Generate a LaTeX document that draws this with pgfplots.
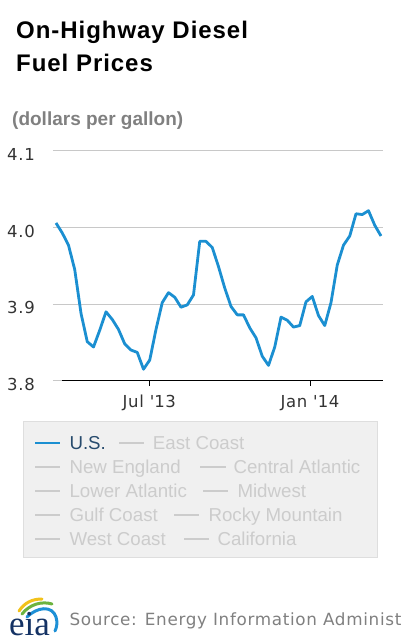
\documentclass[border=0pt]{standalone}
\usepackage{fontspec}
\setmainfont{Liberation Sans}
\newfontfamily\dejavu{DejaVu Sans}
\newfontfamily\spaced[LetterSpace=4]{DejaVu Sans}
\newfontfamily\titlefont[LetterSpace=4]{Liberation Sans}
\newfontfamily\serifeia{Liberation Serif}
\usepackage{pgfplots}
\pgfplotsset{compat=1.18}
\definecolor{usblue}{RGB}{27,143,209}
\definecolor{gridgray}{RGB}{200,200,200}
\definecolor{ticktext}{RGB}{51,51,51}
\definecolor{labelgray}{RGB}{128,128,128}
\definecolor{hidden}{RGB}{204,204,204}
\definecolor{legfill}{RGB}{240,240,240}
\definecolor{legdraw}{RGB}{222,222,222}
\definecolor{legtext}{RGB}{39,75,109}
\definecolor{eianavy}{RGB}{20,50,100}
\definecolor{eiayellow}{RGB}{242,194,27}
\definecolor{eiagreen}{RGB}{108,179,63}
\definecolor{eiablue}{RGB}{30,144,214}

\pgfplotstableread{
i p
0 4.006
1 3.993
2 3.977
3 3.945
4 3.888
5 3.851
6 3.844
7 3.866
8 3.890
9 3.880
10 3.867
11 3.848
12 3.840
13 3.837
14 3.815
15 3.827
16 3.867
17 3.902
18 3.915
19 3.909
20 3.896
21 3.899
22 3.912
23 3.982
24 3.982
25 3.974
26 3.949
27 3.921
28 3.897
29 3.886
30 3.886
31 3.869
32 3.856
33 3.832
34 3.820
35 3.844
36 3.883
37 3.879
38 3.870
39 3.872
40 3.903
41 3.910
42 3.885
43 3.872
44 3.902
45 3.951
46 3.977
47 3.989
48 4.018
49 4.017
50 4.022
51 4.003
52 3.989
}\usdata

\begin{document}
\begin{tikzpicture}[x=1pt,y=1pt]
\path[use as bounding box] (0,0) rectangle (400,640);
\clip (0,0) rectangle (400,640);
% title
\node[anchor=base west, inner sep=0pt, text=black, font=\titlefont\bfseries\fontsize{24}{26}\selectfont] at (16,601) {On-Highway Diesel};
\node[anchor=base west, inner sep=0pt, text=black, font=\titlefont\bfseries\fontsize{24}{26}\selectfont] at (16,568) {Fuel Prices};
\node[anchor=base west, inner sep=0pt, text=labelgray, font=\bfseries\fontsize{19}{22}\selectfont] at (12,514) {(dollars per gallon)};

\begin{axis}[
  at={(53pt,259.3pt)}, anchor=south west,
  width=330pt, height=229.7pt, scale only axis,
  xmin=-0.48, xmax=52.32, ymin=3.8, ymax=4.1,
  ytick={3.8,3.9,4.0,4.1}, yticklabels={3.8,3.9,4.0,4.1},
  xtick={14.93,40.64}, xticklabels={Jul \textquotesingle13, Jan \textquotesingle14},
  ymajorgrids, grid style={gridgray, line width=1pt},
  axis line style={draw=none},
  ytick style={draw=none},
  xtick style={black, line width=1pt},
  tick align=outside, xtick pos=left,
  major tick length=5pt,
  yticklabel style={anchor=base west, inner sep=0pt, xshift=-41pt, yshift=-9.5pt, font=\spaced\fontsize{16.5}{18}\selectfont, text=ticktext},
  xticklabel style={anchor=base, inner sep=0pt, yshift=-22.3pt, font=\spaced\fontsize{16.5}{18}\selectfont, text=ticktext},
]
\addplot[usblue, line width=2.8pt, line join=round, mark=none] table[x=i, y=p] {\usdata};
\draw[black, line width=1pt] (rel axis cs:0.0273,0) -- (rel axis cs:1,0);
\end{axis}

% legend
\filldraw[fill=legfill, draw=legdraw, line width=1pt] (23,218.3) rectangle (377,82.7);
\begin{scope}[every node/.style={anchor=base west, inner sep=0pt, font=\fontsize{18.7}{20}\selectfont}]
\draw[usblue, line width=2pt] (35,197.3) -- (60,197.3);
\node[text=legtext] at (69.3,190.7) {U.S.};
\draw[hidden, line width=2pt] (119,197.3) -- (144,197.3);
\node[text=hidden] at (152.7,190.7) {East Coast};
\draw[hidden, line width=2pt] (35,173.3) -- (60,173.3);
\node[text=hidden] at (69.3,166.7) {New England};
\draw[hidden, line width=2pt] (200,173.3) -- (225.7,173.3);
\node[text=hidden] at (233.3,166.7) {Central Atlantic};
\draw[hidden, line width=2pt] (35,149.3) -- (60,149.3);
\node[text=hidden] at (69.3,142.7) {Lower Atlantic};
\draw[hidden, line width=2pt] (203,149.3) -- (228,149.3);
\node[text=hidden] at (237.3,142.7) {Midwest};
\draw[hidden, line width=2pt] (35,124.9) -- (60,124.9);
\node[text=hidden] at (69.3,118.3) {Gulf Coast};
\draw[hidden, line width=2pt] (174,124.9) -- (199,124.9);
\node[text=hidden] at (208.3,118.3) {Rocky Mountain};
\draw[hidden, line width=2pt] (35,101.3) -- (60,101.3);
\node[text=hidden] at (69.3,94.7) {West Coast};
\draw[hidden, line width=2pt] (184,101.3) -- (209,101.3);
\node[text=hidden] at (217.3,94.7) {California};
\end{scope}

% source and logo
\node[anchor=base west, inner sep=0pt, text=labelgray, font=\spaced\fontsize{16.8}{18}\selectfont] at (69.3,14.3) {Source: Energy Information Administration};
\draw[eiayellow, line width=3pt, line cap=round] (19,29) .. controls (25,38) and (33,41) .. (42,41);
\draw[eiagreen, line width=3pt, line cap=round] (22,26) .. controls (30,36) and (42,39) .. (52,36);
\draw[eiablue, line width=3pt, line cap=round] (27,23) .. controls (37,33) and (52,35) .. (56,23) .. controls (57.5,18) and (57,13) .. (55,9);
\node[anchor=base west, inner sep=0pt, text=eianavy, font=\serifeia\fontsize{35}{36}\selectfont] at (9,4.5) {eia};
\end{tikzpicture}
\end{document}
